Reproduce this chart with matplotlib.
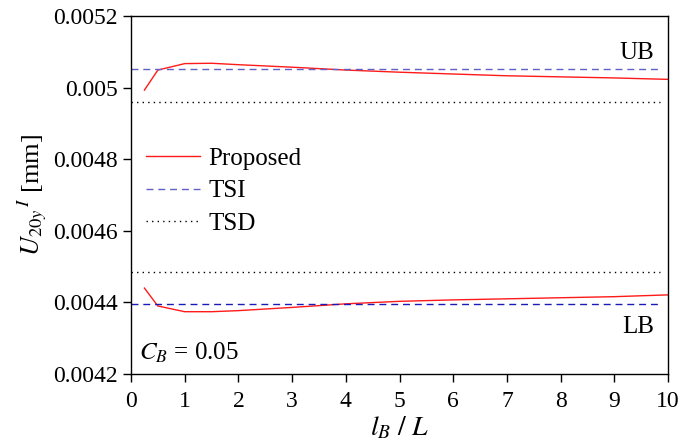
import numpy as np
import matplotlib.pyplot as plt

plt.rcParams['font.family'] = ['Liberation Serif', 'DejaVu Serif']
plt.rcParams['mathtext.fontset'] = 'stix'

# l_B / L
lb = [0.25, 0.5, 1, 1.5, 2, 3, 4, 5, 6, 7, 8, 9, 10]
# upper bound, proposed method
ub_prop = [0.004993, 0.005049, 0.005067, 0.005068, 0.005064, 0.005057, 0.005049,
           0.005043, 0.005038, 0.005033, 0.005030, 0.005027, 0.005023]
# lower bound, proposed method
lb_prop = [0.004440, 0.004390, 0.004374, 0.004374, 0.004377, 0.004386, 0.004396,
           0.004403, 0.004407, 0.004410, 0.004413, 0.004416, 0.004421]
tsi_ub, tsi_lb = 0.0050517, 0.0043955
tsd_ub, tsd_lb = 0.004960, 0.004485

fig = plt.figure(figsize=(6.93, 4.47), dpi=100)
ax = fig.add_axes([131/693, 1-374/447, (668-131)/693, (374-16)/447])

ax.plot(lb, ub_prop, color='#ff1a1a', lw=1.0, label='Proposed')
ax.plot(lb, lb_prop, color='#ff1a1a', lw=1.0)
ax.axhline(tsi_ub, xmin=0, xmax=0.985, color='#6060c8', ls=(0, (5, 3.5)), lw=1.0, label='TSI')
ax.axhline(tsi_lb, xmin=0, xmax=0.985, color='#1a1ab8', ls=(0, (5, 3.5)), lw=1.0)
ax.axhline(tsd_ub, xmin=0, xmax=0.985, color='black', ls=(0, (1, 3)), lw=1.0, label='TSD')
ax.axhline(tsd_lb, xmin=0, xmax=0.985, color='black', ls=(0, (1, 3)), lw=1.0)

ax.set_xlim(0, 10)
ax.set_ylim(0.0042, 0.0052)
ax.set_xticks(range(0, 11))
yt = [0.0042, 0.0044, 0.0046, 0.0048, 0.005, 0.0052]
ax.set_yticks(yt)
ax.set_yticklabels(['0.0042', '0.0044', '0.0046', '0.0048', '0.005', '0.0052'])
ax.tick_params(direction='out', length=6, width=1, labelsize=17, top=False, right=False)
ax.tick_params(axis='x', pad=6)
for s in ax.spines.values():
    s.set_linewidth(1.0)

ax.set_xlabel(r'$l_B\ /\ L$', fontsize=20, labelpad=2)
ax.set_ylabel(r'$U_{20y}{}^{\,I}$ [mm]', fontsize=19, labelpad=3)

ax.text(9.75, 0.005065, 'UB', fontsize=18, ha='right', va='bottom')
ax.text(9.75, 0.004363, 'LB', fontsize=18, ha='right', va='top')
ax.text(0.15, 0.004225, r'$C_B$ = 0.05', fontsize=18, ha='left', va='bottom')

ax.legend(loc='upper left', bbox_to_anchor=(0.0, 0.675), frameon=False, fontsize=18,
          handlelength=2.15, handletextpad=0.35, labelspacing=0.4, borderaxespad=0.2)

fig.savefig('out.png', dpi=100)
